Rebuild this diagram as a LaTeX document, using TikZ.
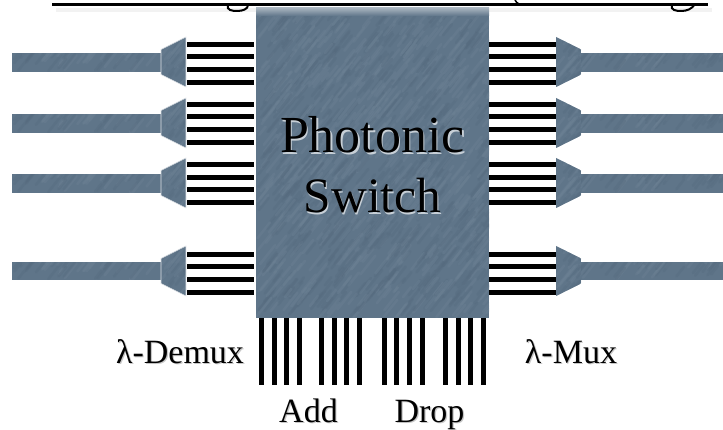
\documentclass[tikz,border=0pt]{standalone}
\usepackage{fontspec}
\setmainfont{Liberation Serif}
\usetikzlibrary{calc}
\definecolor{slate}{HTML}{5F7589}
\definecolor{slateD}{HTML}{566B7F}
\definecolor{slateL}{HTML}{6C8194}
\newcommand{\shtxt}[2]{\leavevmode\rlap{\raisebox{-1.4pt}{\hspace{1.2pt}\textcolor{#1}{#2}}}#2}
\newcommand{\streaks}[5]{% x0 y0 x1 y1 count
  \pgfmathsetseed{#5}
  \fill[slate] (#1,#2) rectangle (#3,#4);
  \pgfmathsetmacro{\nst}{int(abs(#3-(#1))/10*abs(#4-(#2))/6+6)}
  \foreach \k in {1,...,\nst}{
    \pgfmathsetmacro{\strx}{#1+rnd*(#3-(#1))}
    \pgfmathsetmacro{\stry}{#2+rnd*(#4-(#2))}
    \pgfmathsetmacro{\strl}{10+rnd*16}
    \pgfmathsetmacro{\strr}{rnd}
    \ifdim\strr pt>0.5pt\def\scol{slateD}\else\def\scol{slateL}\fi
    \draw[color=\scol,opacity=.4,line width=2.6pt,line cap=round] (\strx,\stry) -- ++(\strl*0.62,-\strl*0.78);
  }
}
\tikzset{
  x=1pt,y=-1pt,
  wire/.style={line width=5pt,black},
  bigtxt/.style={inner sep=0,anchor=base,font=\fontsize{52}{52}\selectfont},
  switchtxt/.style={inner sep=0,anchor=base,font=\fontsize{49.5}{50}\selectfont},
  smalltxt/.style={inner sep=0,anchor=base,font=\fontsize{34}{35}\selectfont},
  trapedge/.style={draw=white!80!slate,line width=.6pt},
  gtail/.style={line width=2pt,black}
}
\begin{document}
\begin{tikzpicture}
\useasboundingbox (0,0) rectangle (723,430);
% header remnants
\fill[black!5] (56,8) rectangle (712,12);
\draw[black,line width=3pt] (52,4.5) -- (708,4.5);
\draw[gtail] (228,5) .. controls (226,10) and (232,11) .. (237,11) .. controls (243,11) and (248,9) .. (248,5);
\draw[gtail] (672,5) .. controls (670,10) and (676,11) .. (681,11) .. controls (687,11) and (692,9) .. (695,4);
\draw[black,line width=1.5pt] (515,0) .. controls (516,2) and (517,3) .. (519,4);
% switch
\begin{scope}
\clip (256,8) rectangle (489,318);
\streaks{256}{8}{489}{318}{11}
\shade[top color=white!45!slate,bottom color=slate] (256,8) rectangle (489,16);
\end{scope}
\node[inner sep=0,minimum width=233pt,minimum height=310pt] (switch) at (372.5,163) {};
\node[bigtxt,text=black] (ph) at (372.5,153) {\shtxt{white!65!slate}{Photonic}};
\node[switchtxt,text=black] (sw) at (372.5,213) {\shtxt{white!65!slate}{Switch}};
% rows: name / fibre top / fibre bottom / trapezoid centre / wire rows
\foreach \rown/\ftop/\fbot/\cen/\wya/\wyb/\wyc/\wyd in {
  a/53/72/62/44.5/56.5/69.5/82.5,
  b/114/133/123/104.5/117/129.5/142.5,
  c/174/193/183/165/177.5/190/202.5,
  d/262/280/271/254.5/267/279.5/292.5}{
  \pgfmathsetmacro{\ttop}{\cen-26}
  \pgfmathsetmacro{\tbot}{\cen+26}
  \begin{scope}
    \clip (12,\ftop) rectangle (162,\fbot);
    \streaks{12}{\ftop}{162}{\fbot}{21}
  \end{scope}
  \begin{scope}
    \clip (580,\ftop) rectangle (723,\fbot);
    \streaks{580}{\ftop}{723}{\fbot}{31}
  \end{scope}
  % crisp fibre edges
  \fill[white] (10,\ftop-3) rectangle (162,\ftop);
  \fill[white] (10,\fbot) rectangle (162,\fbot+3);
  \fill[white] (580,\ftop-3) rectangle (723,\ftop);
  \fill[white] (580,\fbot) rectangle (723,\fbot+3);
  \begin{scope}
    \clip (161,\cen-12.5) -- (186,\cen-25) -- (186,\cen+25) -- (161,\cen+12.5) -- cycle;
    \streaks{161}{\ttop}{186}{\tbot}{41}
  \end{scope}
  \draw[trapedge] (161,\cen-12.5) -- (186,\cen-25) -- (186,\cen+25) -- (161,\cen+12.5) -- cycle;
  \begin{scope}
    \clip (556,\cen-25) -- (581,\cen-12.5) -- (581,\cen+12.5) -- (556,\cen+25) -- cycle;
    \streaks{556}{\ttop}{581}{\tbot}{51}
  \end{scope}
  % wires
  \foreach \i/\wy in {1/\wya,2/\wyb,3/\wyc,4/\wyd}{
    \coordinate (L\rown\i) at (187,\wy);
    \coordinate (LS\rown\i) at (254,\wy);
    \coordinate (R\rown\i) at (556,\wy);
    \coordinate (RS\rown\i) at (489,\wy);
    \draw[wire] (L\rown\i) -- (LS\rown\i);
    \draw[wire] (RS\rown\i) -- (R\rown\i);
  }
}
% add / drop wires
\foreach \wx [count=\i] in {261.5,274,286.5,299,321.5,334,346.5,359.5,384,396.5,409.5,422,445,458,470.5,483}{
  \coordinate (wt\i) at (\wx,318);
  \coordinate (wb\i) at (\wx,385);
  \draw[wire] (wt\i) -- (wb\i);
}
% labels
\node[smalltxt] (dem) at (180,363) {\shtxt{black!22}{λ-Demux}};
\node[smalltxt] (mux) at (571,363) {\shtxt{black!22}{λ-Mux}};
\node[smalltxt] (add) at (308.5,422) {\shtxt{black!22}{Add}};
\node[smalltxt] (drp) at (429.5,422) {\shtxt{black!22}{Drop}};
\end{tikzpicture}
\end{document}
